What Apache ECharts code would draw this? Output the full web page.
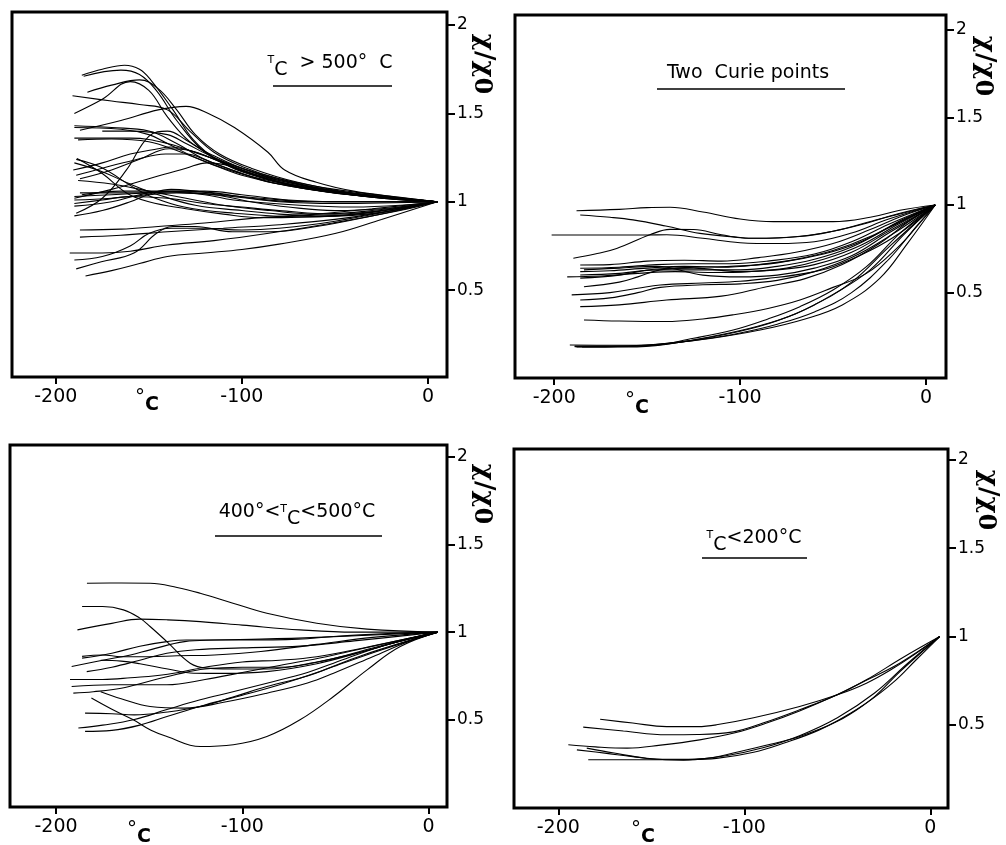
<!DOCTYPE html>
<html>
<head>
<meta charset="utf-8">
<script src="https://cdn.jsdelivr.net/npm/echarts@6/dist/echarts.min.js"></script>
<style>
html,body{margin:0;padding:0;background:#fff;}
#c{width:1006px;height:845px;}
</style>
</head>
<body>
<div id="c"></div>
<script>
// ---------- data ----------
const xTicks = [-200, -100, 0];
const yTicks = [0.5, 1, 1.5, 2];
const panelTitles = ['T_C > 500° C', 'Two Curie points', '400°<T_C<500°C', 'T_C<200°C'];

// Panel 1 : Tc > 500 °C
const curvesTcAbove500 = [
  [[-186,1.716],[-175,1.75],[-163,1.773],[-155,1.75],[-149,1.69],[-137,1.52],[-126,1.35],[-113,1.235],[-96,1.16],[-69,1.08],[-33,1.03],[5,1]],
  [[-185,1.71],[-165,1.745],[-155,1.72],[-146,1.63],[-135,1.46],[-122,1.30],[-108,1.21],[-90,1.14],[-60,1.07],[-25,1.02],[5,1]],
  [[-183,1.62],[-170,1.66],[-155,1.69],[-145,1.64],[-135,1.52],[-125,1.38],[-112,1.27],[-95,1.19],[-70,1.11],[-35,1.04],[5,1]],
  [[-190,1.50],[-175,1.58],[-160,1.68],[-150,1.63],[-140,1.48],[-128,1.34],[-115,1.26],[-95,1.17],[-65,1.09],[-30,1.03],[5,1]],
  [[-191,1.60],[-170,1.57],[-155,1.55],[-140,1.52],[-128,1.40],[-115,1.28],[-100,1.20],[-80,1.13],[-50,1.06],[5,1]],
  [[-187,1.405],[-165,1.46],[-145,1.52],[-130,1.54],[-118,1.50],[-104,1.42],[-86,1.28],[-77,1.18],[-60,1.11],[-40,1.06],[-15,1.025],[5,1]],
  [[-190,1.43],[-170,1.42],[-150,1.40],[-135,1.33],[-120,1.24],[-100,1.16],[-80,1.10],[-50,1.05],[-20,1.02],[5,1]],
  [[-190,1.42],[-165,1.41],[-150,1.38],[-140,1.33],[-125,1.25],[-110,1.19],[-90,1.13],[-60,1.07],[-25,1.02],[5,1]],
  [[-175,1.40],[-160,1.40],[-140,1.38],[-130,1.33],[-115,1.25],[-100,1.19],[-80,1.12],[-50,1.06],[5,1]],
  [[-190,1.36],[-160,1.36],[-140,1.33],[-120,1.26],[-100,1.19],[-80,1.13],[-50,1.07],[5,1]],
  [[-188,1.35],[-170,1.355],[-150,1.34],[-135,1.29],[-118,1.22],[-100,1.15],[-75,1.09],[-40,1.04],[5,1]],
  [[-189,1.24],[-176,1.196],[-158,1.08],[-149,1.03],[-131,0.97],[-104,0.935],[-69,0.915],[-33,0.93],[5,1]],
  [[-188.6,1.245],[-175,1.16],[-162,1.05],[-150,1.0],[-130,0.96],[-110,0.93],[-90,0.91],[-50,0.92],[-25,0.95],[5,1]],
  [[-189,0.935],[-175,1.02],[-162,1.18],[-150,1.37],[-140,1.40],[-130,1.35],[-115,1.25],[-100,1.18],[-80,1.12],[-50,1.06],[5,1]],
  [[-190,1.02],[-170,1.07],[-150,1.13],[-130,1.19],[-118.6,1.22],[-105,1.20],[-90,1.14],[-70,1.09],[-40,1.04],[5,1]],
  [[-190.6,1.18],[-175,1.22],[-160,1.27],[-145,1.30],[-138.6,1.31],[-125,1.28],[-110,1.22],[-95,1.16],[-75,1.10],[-45,1.05],[5,1]],
  [[-187,1.13],[-170,1.18],[-155,1.24],[-139,1.30],[-128,1.29],[-115,1.24],[-100,1.17],[-80,1.11],[-50,1.05],[5,1]],
  [[-189,1.15],[-175,1.19],[-158,1.235],[-141,1.27],[-130,1.27],[-118,1.23],[-100,1.16],[-80,1.10],[5,1]],
  [[-187,1.05],[-165,1.05],[-140,1.055],[-120,1.04],[-104.5,1.01],[-69,0.98],[-40,0.97],[-15,0.98],[5,1]],
  [[-186,1.04],[-165,1.06],[-145,1.06],[-125,1.05],[-105,1.03],[-80,1.0],[-50,0.99],[5,1]],
  [[-190,1.03],[-170,1.04],[-150,1.05],[-130,1.06],[-115,1.05],[-95,1.02],[-70,1.0],[-40,1.0],[5,1]],
  [[-190,1.01],[-170,1.02],[-150,1.04],[-135,1.05],[-115,1.04],[-95,1.00],[-75,0.97],[-50,0.95],[-25,0.96],[5,1]],
  [[-190,0.975],[-170,1.0],[-155,1.04],[-140,1.06],[-120,1.06],[-100,1.04],[-75,1.01],[-45,1.0],[5,1]],
  [[-190,0.99],[-175,1.01],[-160,1.03],[-140,1.02],[-120,0.99],[-100,0.97],[-80,0.95],[-50,0.93],[-25,0.95],[5,1]],
  [[-190,1.22],[-175,1.17],[-160,1.10],[-145,1.04],[-125,0.98],[-100,0.95],[-80,0.93],[-55,0.92],[-30,0.94],[5,1]],
  [[-188,1.12],[-170,1.10],[-150,1.06],[-130,1.02],[-110,0.98],[-85,0.95],[-60,0.93],[-30,0.95],[5,1]],
  [[-190,0.92],[-175,0.95],[-160,1.0],[-148,1.05],[-138,1.07],[-125,1.06],[-110,1.04],[-90,1.02],[-60,1.0],[5,1]],
  [[-187,0.84],[-165,0.845],[-145,0.86],[-120,0.88],[-90,0.91],[-60,0.93],[-30,0.96],[5,1]],
  [[-187,0.80],[-165,0.81],[-140,0.83],[-110,0.85],[-80,0.87],[-50,0.90],[-25,0.94],[5,1]],
  [[-192.5,0.71],[-175,0.71],[-160,0.72],[-140,0.755],[-115,0.78],[-86.5,0.82],[-51,0.88],[-15,0.95],[5,1]],
  [[-189,0.62],[-175.5,0.66],[-158,0.71],[-146,0.82],[-137,0.86],[-125,0.86],[-105,0.83],[-85,0.83],[-60,0.86],[-30,0.92],[5,1]],
  [[-184,0.58],[-170,0.61],[-155,0.65],[-140,0.69],[-120,0.71],[-100,0.73],[-80,0.76],[-50,0.82],[-25,0.90],[5,1]],
  [[-190,0.67],[-175,0.69],[-160,0.75],[-150,0.82],[-138,0.85],[-120,0.85],[-100,0.84],[-80,0.85],[-50,0.89],[5,1]]
];

// Panel 2 : two Curie points
const curvesTwoCurie = [
  [[-188,0.967],[-165,0.975],[-150,0.985],[-137.7,0.987],[-120,0.96],[-100,0.92],[-82,0.905],[-50,0.905],[-30,0.93],[-14,0.97],[5,1]],
  [[-186,0.943],[-170,0.93],[-157.6,0.915],[-140,0.88],[-121.6,0.838],[-100,0.815],[-93,0.81],[-67.8,0.82],[-50,0.85],[-32,0.896],[-15,0.95],[5,1]],
  [[-201.4,0.829],[-170,0.829],[-150,0.829],[-139.5,0.83],[-120,0.81],[-100,0.785],[-80,0.78],[-60,0.79],[-40,0.84],[-20,0.92],[5,1]],
  [[-189.7,0.696],[-178,0.72],[-166.4,0.752],[-148.5,0.83],[-137.7,0.861],[-125,0.86],[-110,0.83],[-95,0.81],[-75,0.815],[-50,0.85],[-25,0.92],[5,1]],
  [[-186,0.658],[-170,0.66],[-150,0.68],[-130,0.685],[-110,0.68],[-90,0.70],[-70,0.73],[-50,0.78],[-30,0.86],[-12,0.94],[5,1]],
  [[-186,0.639],[-165,0.645],[-145,0.66],[-125,0.665],[-105,0.665],[-85,0.68],[-60,0.72],[-40,0.79],[-20,0.89],[5,1]],
  [[-186,0.62],[-170,0.625],[-150,0.64],[-130,0.65],[-110,0.645],[-90,0.66],[-70,0.69],[-50,0.74],[-30,0.82],[-12,0.92],[5,1]],
  [[-186,0.601],[-165,0.61],[-145,0.63],[-125,0.63],[-100,0.63],[-80,0.65],[-60,0.69],[-40,0.76],[-20,0.87],[5,1]],
  [[-193,0.59],[-175,0.595],[-155,0.61],[-135,0.62],[-115,0.615],[-95,0.62],[-75,0.64],[-55,0.69],[-35,0.77],[-15,0.89],[5,1]],
  [[-186,0.583],[-165,0.60],[-145,0.635],[-125,0.64],[-100,0.62],[-80,0.63],[-60,0.66],[-40,0.73],[-20,0.85],[5,1]],
  [[-184,0.63],[-165,0.64],[-145,0.65],[-120,0.60],[-100,0.59],[-80,0.60],[-60,0.64],[-40,0.71],[-20,0.84],[5,1]],
  [[-184,0.534],[-165,0.56],[-155,0.59],[-143,0.63],[-125,0.645],[-105,0.65],[-80,0.67],[-55,0.72],[-35,0.79],[-15,0.9],[5,1]],
  [[-190.6,0.487],[-170,0.50],[-155,0.525],[-143,0.544],[-120,0.555],[-100,0.565],[-85.7,0.58],[-65,0.61],[-50,0.648],[-30,0.74],[-14,0.84],[5,1]],
  [[-186,0.458],[-170,0.47],[-155,0.50],[-143,0.53],[-120,0.545],[-100,0.55],[-80,0.57],[-60,0.62],[-40,0.70],[-20,0.82],[5,1]],
  [[-186,0.42],[-165,0.43],[-139.5,0.458],[-110,0.48],[-85.7,0.534],[-65,0.58],[-45,0.66],[-25,0.78],[-10,0.9],[5,1]],
  [[-184,0.344],[-165,0.338],[-140,0.335],[-120,0.35],[-104,0.373],[-85,0.41],[-67.8,0.458],[-50,0.53],[-32,0.61],[-15,0.76],[-5,0.876],[5,1]],
  [[-191.6,0.201],[-170,0.20],[-148.5,0.20],[-125,0.24],[-103.7,0.287],[-85,0.35],[-67.8,0.42],[-50,0.515],[-32,0.648],[-14,0.838],[5,1]],
  [[-189,0.192],[-170,0.192],[-150,0.197],[-125,0.23],[-100,0.28],[-80,0.34],[-60,0.43],[-40,0.56],[-20,0.76],[5,1]],
  [[-189,0.195],[-165,0.195],[-145,0.205],[-120,0.235],[-100,0.27],[-80,0.32],[-60,0.39],[-40,0.50],[-20,0.69],[-5,0.88],[5,1]],
  [[-188,0.19],[-160,0.195],[-140,0.21],[-115,0.24],[-90,0.285],[-65,0.35],[-45,0.43],[-25,0.58],[-10,0.78],[5,1]],
  [[-185,0.19],[-160,0.19],[-140,0.205],[-115,0.25],[-90,0.31],[-70,0.38],[-50,0.49],[-30,0.63],[-12,0.83],[5,1]]
];

// Panel 3 : 400 °C < Tc < 500 °C
const curves400to500 = [
  [[-183.4,1.279],[-165,1.28],[-149.5,1.279],[-135,1.255],[-122.6,1.222],[-105,1.165],[-86.8,1.108],[-60,1.051],[-33,1.017],[5,1]],
  [[-186,1.146],[-175,1.146],[-163.8,1.127],[-155,1.08],[-149.5,1.032],[-140.5,0.946],[-128,0.823],[-119,0.795],[-100,0.79],[-86.8,0.79],[-60,0.83],[-35,0.89],[-15,0.95],[5,1]],
  [[-188.5,1.013],[-170,1.05],[-155,1.074],[-140,1.07],[-122.6,1.06],[-100,1.04],[-69,1.013],[-40,1.0],[5,1]],
  [[-186,0.852],[-170,0.88],[-155,0.92],[-140.5,0.946],[-130,0.955],[-100,0.955],[-70,0.96],[-51,0.975],[-25,0.99],[5,1]],
  [[-191.6,0.804],[-175,0.84],[-160,0.87],[-149.5,0.899],[-131,0.946],[-115,0.955],[-90,0.96],[-60,0.97],[5,1]],
  [[-186,0.862],[-175,0.87],[-165,0.86],[-150,0.86],[-135,0.865],[-115,0.87],[-90,0.89],[-60,0.93],[-30,0.97],[5,1]],
  [[-183.5,0.775],[-170,0.80],[-155,0.84],[-140.5,0.88],[-125,0.9],[-100,0.91],[-69,0.92],[-40,0.95],[5,1]],
  [[-176,0.84],[-165,0.835],[-155,0.82],[-140,0.79],[-126,0.766],[-110,0.765],[-86.8,0.775],[-60,0.82],[-35,0.89],[-15,0.95],[5,1]],
  [[-192.5,0.73],[-175,0.73],[-160,0.74],[-140,0.76],[-120,0.8],[-100,0.83],[-80,0.84],[-60,0.86],[-35,0.91],[5,1]],
  [[-191.6,0.69],[-170,0.70],[-155,0.70],[-140.5,0.70],[-120,0.73],[-100,0.77],[-80,0.81],[-55,0.86],[-30,0.92],[5,1]],
  [[-190.7,0.652],[-180,0.66],[-165,0.68],[-150,0.72],[-135,0.76],[-120,0.79],[-100,0.80],[-80,0.80],[-55,0.84],[-30,0.91],[5,1]],
  [[-181,0.624],[-170,0.56],[-158.5,0.5],[-149,0.44],[-140.5,0.405],[-122.6,0.348],[-104.8,0.358],[-86.8,0.405],[-69,0.5],[-51,0.633],[-33,0.785],[-15.2,0.918],[5,1]],
  [[-176,0.66],[-165,0.62],[-149.5,0.576],[-131,0.567],[-110,0.60],[-86.8,0.652],[-65,0.71],[-51,0.766],[-30,0.86],[-10,0.95],[5,1]],
  [[-184.4,0.538],[-170,0.535],[-158,0.528],[-140,0.545],[-122.6,0.576],[-105,0.63],[-86.8,0.69],[-65,0.75],[-51,0.804],[-25,0.9],[5,1]],
  [[-188,0.453],[-175,0.47],[-158.5,0.5],[-140,0.56],[-122.6,0.614],[-105,0.66],[-86.8,0.709],[-65,0.77],[-51,0.823],[-25,0.92],[5,1]],
  [[-184.4,0.434],[-170,0.44],[-155,0.47],[-140,0.52],[-120,0.585],[-100,0.64],[-80,0.70],[-60,0.77],[-35,0.87],[5,1]]
];

// Panel 4 : Tc < 200 °C
const curvesTcBelow200 = [
  [[-177.5,0.532],[-160,0.51],[-141.8,0.49],[-125,0.49],[-115,0.50],[-95,0.54],[-70.3,0.604],[-50,0.67],[-34.4,0.736],[-20,0.82],[-7.5,0.906],[5,1]],
  [[-186.6,0.487],[-165,0.465],[-141.8,0.444],[-125,0.445],[-106,0.46],[-90,0.51],[-70.3,0.585],[-50,0.67],[-34.4,0.755],[-15,0.88],[5,1]],
  [[-194.6,0.387],[-180,0.375],[-163,0.368],[-145,0.385],[-124,0.415],[-105,0.455],[-88,0.51],[-70,0.58],[-52.3,0.66],[-35,0.75],[-16.5,0.849],[5,1]],
  [[-184.7,0.368],[-170,0.34],[-152.5,0.311],[-132.7,0.30],[-120,0.31],[-106,0.34],[-90,0.38],[-70.3,0.434],[-50,0.52],[-34.4,0.623],[-20,0.74],[-7.5,0.87],[5,1]],
  [[-183.9,0.302],[-165,0.302],[-151,0.302],[-130,0.303],[-115,0.31],[-95,0.345],[-79,0.396],[-60,0.47],[-43,0.566],[-30,0.66],[-16.5,0.8],[5,1]],
  [[-190,0.358],[-175,0.34],[-160,0.32],[-145,0.305],[-130,0.305],[-110,0.325],[-90,0.37],[-70,0.44],[-50,0.54],[-30,0.68],[-12,0.85],[5,1]]
];

// ---------- layout ----------
const panels = [
  {curves: curvesTcAbove500, grid:{left:12, top:12, width:435, height:365}, x:[-223.5,10.2], y:[0.008,2.074]},
  {curves: curvesTwoCurie,   grid:{left:515, top:15, width:431, height:363}, x:[-221.1,10.8], y:[0.013,2.084]},
  {curves: curves400to500,   grid:{left:10, top:445, width:437, height:362}, x:[-224.7,9.9], y:[0.003,2.067]},
  {curves: curvesTcBelow200, grid:{left:514, top:449, width:434, height:359}, x:[-223.8,9.45], y:[0.029,2.062]}
];

const labelFont = 'DejaVu Sans';
const grids = [], xAxes = [], yAxes = [], series = [];
panels.forEach((p, i) => {
  grids.push(Object.assign({show:true, borderColor:'#000', borderWidth:3, backgroundColor:'transparent'}, p.grid));
  xAxes.push({
    type:'value', gridIndex:i, min:p.x[0], max:p.x[1],
    axisLine:{show:false, onZero:false}, splitLine:{show:false},
    axisTick:{show:true, customValues:xTicks, length:7, lineStyle:{color:'#000', width:2}},
    axisLabel:{customValues:xTicks, margin:11, color:'#000', fontSize:19, fontFamily:labelFont}
  });
  yAxes.push({
    type:'value', gridIndex:i, position:'right', min:p.y[0], max:p.y[1],
    axisLine:{show:false, onZero:false}, splitLine:{show:false},
    axisTick:{show:true, customValues:yTicks, length:8, lineStyle:{color:'#000', width:2}},
    axisLabel:{customValues:yTicks, margin:10, color:'#000', fontSize:17, fontFamily:labelFont}
  });
  p.curves.forEach(c => {
    series.push({
      type:'line', xAxisIndex:i, yAxisIndex:i, data:c, smooth:0.4,
      showSymbol:false, symbol:'none', silent:true,
      lineStyle:{color:'#000', width:1.1}
    });
  });
});

const richTitle = {
  n:{fontSize:19, fontFamily:labelFont, color:'#000'},
  t:{fontSize:11, fontFamily:labelFont, color:'#000', padding:[0,0,5,0]},
  c:{fontSize:19, fontFamily:labelFont, color:'#000', padding:[14,0,0,0]}
};
function titleText(x, y, txt){
  return {type:'text', x:x, y:y, style:{text:txt, rich:richTitle, align:'center', verticalAlign:'middle', fill:'#000'}};
}
function uline(x1, x2, y){
  return {type:'line', shape:{x1:x1, y1:y, x2:x2, y2:y}, style:{stroke:'#000', lineWidth:1.5}};
}
function degC(x, y){
  return {type:'text', x:x, y:y, style:{text:'{d|°}{c|C}', align:'center', verticalAlign:'middle',
    rich:{d:{fontSize:20, fontFamily:labelFont, color:'#000', padding:[0,0,6,0]}, c:{fontSize:19, fontFamily:labelFont, fontWeight:'bold', color:'#000', padding:[8,0,0,0]}}}};
}
function yName(x, y){
  return {type:'text', x:x, y:y, rotation:-Math.PI/2, style:{text:'{a|χ/χ}{b|0}', align:'center', verticalAlign:'middle',
    rich:{a:{fontSize:26, fontWeight:'bold', fontFamily:'DejaVu Serif', color:'#000'},
          b:{fontSize:24, fontWeight:'bold', fontFamily:'DejaVu Serif', color:'#000', padding:[6,0,0,0]}}}};
}

const graphics = [
  titleText(330, 63, '{t|T}{c|C}{n|  > 500°  C}'), uline(273, 392, 86),
  titleText(748, 73, '{n|Two  Curie points}'), uline(657, 845, 89),
  titleText(297, 512, '{n|400°<}{t|T}{c|C}{n|<500°C}'), uline(215, 382, 536),
  titleText(754, 538, '{t|T}{c|C}{n|<200°C}'), uline(702, 807, 558),
  degC(147, 401), degC(637, 404), degC(139, 833), degC(643, 833),
  yName(484, 64), yName(985, 66), yName(484, 494), yName(988, 500)
];

const chart = echarts.init(document.getElementById('c'), null, {renderer:'canvas'});
chart.setOption({
  animation:false,
  backgroundColor:'#fff',
  grid:grids, xAxis:xAxes, yAxis:yAxes, series:series,
  graphic:graphics
});
</script>
</body>
</html>
